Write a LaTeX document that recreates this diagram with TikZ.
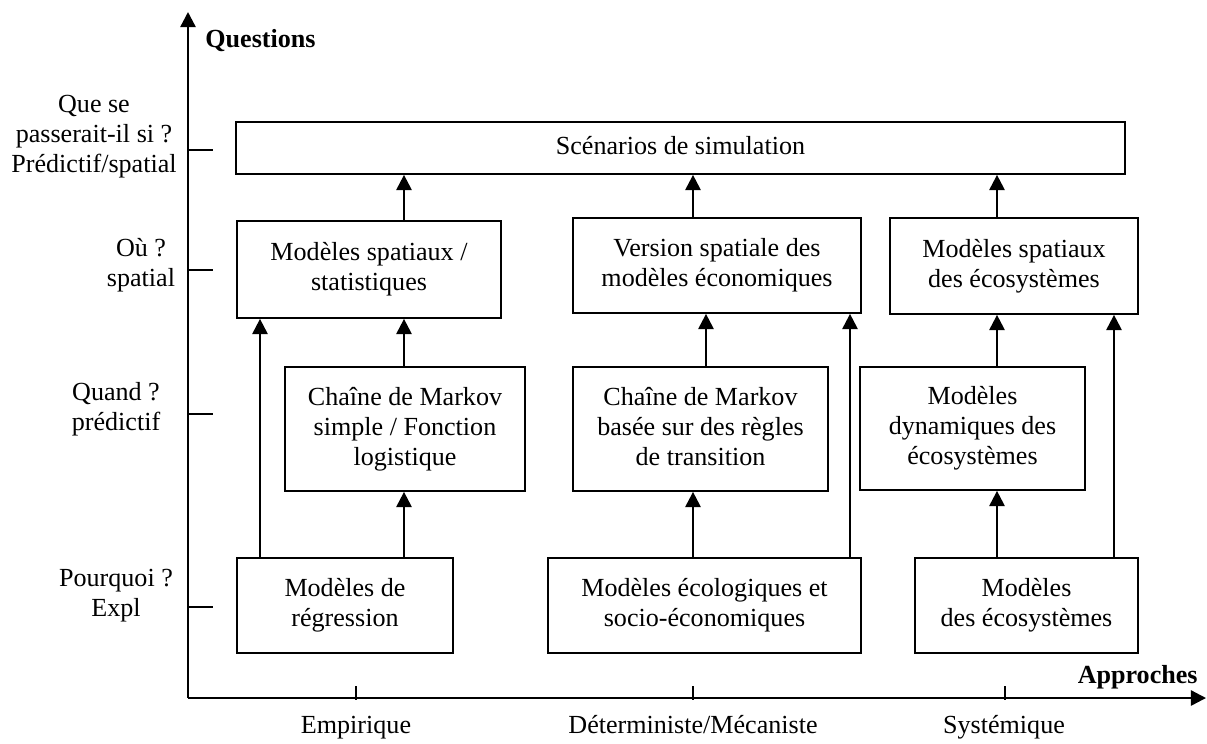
\documentclass[tikz,border=0pt]{standalone}
\usepackage{fontspec}
\setmainfont{Liberation Serif}
\usetikzlibrary{arrows.meta}
\newcommand\bxtext[1]{\raisebox{2pt}{\begin{tabular}{@{}c@{}}#1\end{tabular}}}
\begin{document}
\begin{tikzpicture}[x=0.46pt,y=-0.46pt,
  txt/.style={font=\fontsize{12}{13.8}\selectfont},
  box/.style={txt,draw,line width=0.8pt,inner sep=0pt},
  lab/.style={txt,inner sep=0pt,align=center},
  bold/.style={inner sep=0pt,font=\fontsize{12}{13.8}\selectfont\bfseries},
  conn/.style={line width=1pt,-{Triangle[width=7pt,length=7pt]}},
  axis/.style={line width=1.1pt,-{Triangle[width=7pt,length=7pt]}},
  tickmark/.style={line width=0.8pt}]
\useasboundingbox (0,0) rectangle (1207,743);
% axes
\coordinate (O) at (188,698);
\coordinate (ytop) at (188,12);
\coordinate (xend) at (1206,698);
\draw[axis] (O) -- (ytop);
\draw[axis] (O) -- (xend);
\node[bold,anchor=base west] (qst) at (205,47) {Questions};
\node[bold,anchor=base east] (appr) at (1198,683) {Approches};
% y ticks
\foreach \yy/\nm in {150/ya,270/yb,414/yc,607/yd}{
  \coordinate (\nm0) at (188,\yy); \coordinate (\nm1) at (213,\yy);
  \draw[tickmark] (\nm0) -- (\nm1);}
% x ticks
\foreach \xx/\nm in {356/xa,693/xb,1005/xc}{
  \coordinate (\nm0) at (\xx,686); \coordinate (\nm1) at (\xx,700);
  \draw[tickmark] (\nm0) -- (\nm1);}
% y labels
\node[lab] (l1) at (94,137) {Que se\\passerait-il si ?\\Prédictif/spatial};
\node[lab] (l2) at (141,265) {Où ?\\spatial};
\node[lab] (l3) at (116,409) {Quand ?\\prédictif};
\node[lab] (l4) at (116,596) {Pourquoi ?\\Expl};
% x labels
\node[txt,inner sep=0pt,anchor=base] (e1) at (356,733) {Empirique};
\node[txt,inner sep=0pt,anchor=base] (e2) at (693,733) {Déterministe/Mécaniste};
\node[txt,inner sep=0pt,anchor=base] (e3) at (1004,733) {Systémique};
% boxes
\node[box,minimum width=889*0.46pt,minimum height=52*0.46pt] (sc) at (680.5,148) {\bxtext{Scénarios de simulation}};
\node[box,minimum width=264*0.46pt,minimum height=97*0.46pt] (sp1) at (369,269.5) {\bxtext{Modèles spatiaux /\\statistiques}};
\node[box,minimum width=288*0.46pt,minimum height=95*0.46pt] (sp2) at (717,265.5) {\bxtext{Version spatiale des\\modèles économiques}};
\node[box,minimum width=248*0.46pt,minimum height=96*0.46pt] (sp3) at (1014,266) {\bxtext{Modèles spatiaux\\des écosystèmes}};
\node[box,minimum width=240*0.46pt,minimum height=124*0.46pt] (mk1) at (405,429) {\bxtext{Chaîne de Markov\\simple / Fonction\\logistique}};
\node[box,minimum width=255*0.46pt,minimum height=124*0.46pt] (mk2) at (700.5,429) {\bxtext{Chaîne de Markov\\basée sur des règles\\de transition}};
\node[box,minimum width=225*0.46pt,minimum height=123*0.46pt] (mk3) at (972.5,428.5) {\bxtext{Modèles\\dynamiques des\\écosystèmes}};
\node[box,minimum width=216*0.46pt,minimum height=95*0.46pt] (b1) at (345,605.5) {\bxtext{Modèles de\\régression}};
\node[box,minimum width=313*0.46pt,minimum height=95*0.46pt] (b2) at (704.5,605.5) {\bxtext{Modèles écologiques et\\socio-économiques}};
\node[box,minimum width=223*0.46pt,minimum height=95*0.46pt] (b3) at (1026.5,605.5) {\bxtext{Modèles\\des écosystèmes}};
% connector columns
\coordinate (ca) at (260,0);
\coordinate (cb) at (404,0);
\coordinate (cc) at (693,0);
\coordinate (cd) at (706,0);
\coordinate (ce) at (850,0);
\coordinate (cf) at (997,0);
\coordinate (cg) at (1114,0);
% connectors
\draw[conn] (sp1.north -| cb) -- (sc.south -| cb);
\draw[conn] (sp2.north -| cc) -- (sc.south -| cc);
\draw[conn] (sp3.north -| cf) -- (sc.south -| cf);
\draw[conn] (mk1.north -| cb) -- (sp1.south -| cb);
\draw[conn] (b1.north -| ca) -- (sp1.south -| ca);
\draw[conn] (b1.north -| cb) -- (mk1.south -| cb);
\draw[conn] (mk2.north -| cd) -- (sp2.south -| cd);
\draw[conn] (b2.north -| cc) -- (mk2.south -| cc);
\draw[conn] (b2.north -| ce) -- (sp2.south -| ce);
\draw[conn] (mk3.north -| cf) -- (sp3.south -| cf);
\draw[conn] (b3.north -| cf) -- (mk3.south -| cf);
\draw[conn] (b3.north -| cg) -- (sp3.south -| cg);
\end{tikzpicture}
\end{document}
